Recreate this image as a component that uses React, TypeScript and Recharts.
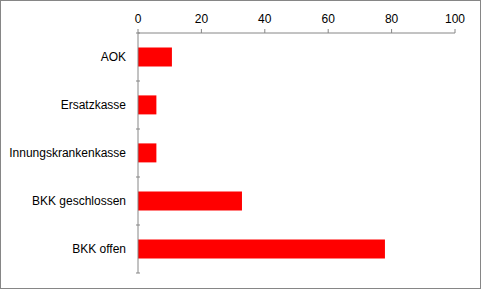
import { BarChart, Bar, XAxis, YAxis } from 'recharts';

const categories = ['AOK', 'Ersatzkasse', 'Innungskrankenkasse', 'BKK geschlossen', 'BKK offen'];
const values = [10.7, 5.8, 5.8, 32.8, 77.9];
const xTicks = [0, 20, 40, 60, 80, 100];

const data = categories.map((name, i) => ({ name, value: values[i] }));

const AXIS = '#868686';
const FONT = '"Liberation Sans", Arial, sans-serif';

// Category label centred in the band, tick marks on the band boundaries (Excel style)
const CategoryTick = (props: any) => {
  const { x, y, payload, index, visibleTicksCount } = props;
  const half = payload && payload.offset ? payload.offset : 24;
  const axisX = x + 8;
  return (
    <g>
      <line x1={axisX - 4} x2={axisX} y1={y - half} y2={y - half} stroke={AXIS} />
      {index === visibleTicksCount - 1 && (
        <line x1={axisX - 4} x2={axisX} y1={y + half} y2={y + half} stroke={AXIS} />
      )}
      <text x={x - 6} y={y} dy={4} textAnchor="end" fill="#000" fontSize={12} fontFamily={FONT}>
        {payload.value}
      </text>
    </g>
  );
};

export default function App() {
  return (
    <div style={{ position: 'absolute', left: 0, top: 0, width: 481, height: 289 }}>
      <style>{'body{margin:0}'}</style>
      <BarChart
        width={481}
        height={289}
        data={data}
        layout="vertical"
        barCategoryGap="30%"
        margin={{ top: 8, right: 26, bottom: 16, left: 0 }}
      >
        <XAxis
          type="number"
          orientation="top"
          domain={[0, 100]}
          ticks={xTicks}
          height={25}
          stroke={AXIS}
          tickSize={4}
          tickMargin={6}
          tick={{ fill: '#000', fontSize: 12, fontFamily: FONT }}
        />
        <YAxis
          type="category"
          dataKey="name"
          width={138}
          stroke={AXIS}
          tickLine={false}
          tickMargin={0}
          interval={0}
          tick={<CategoryTick />}
        />
        <Bar dataKey="value" fill="#ff0000" isAnimationActive={false} />
      </BarChart>
      <div
        style={{
          position: 'absolute',
          left: 0,
          top: 0,
          width: 481,
          height: 289,
          boxSizing: 'border-box',
          border: '1px solid #868686',
          pointerEvents: 'none'
        }}
      />
    </div>
  );
}
